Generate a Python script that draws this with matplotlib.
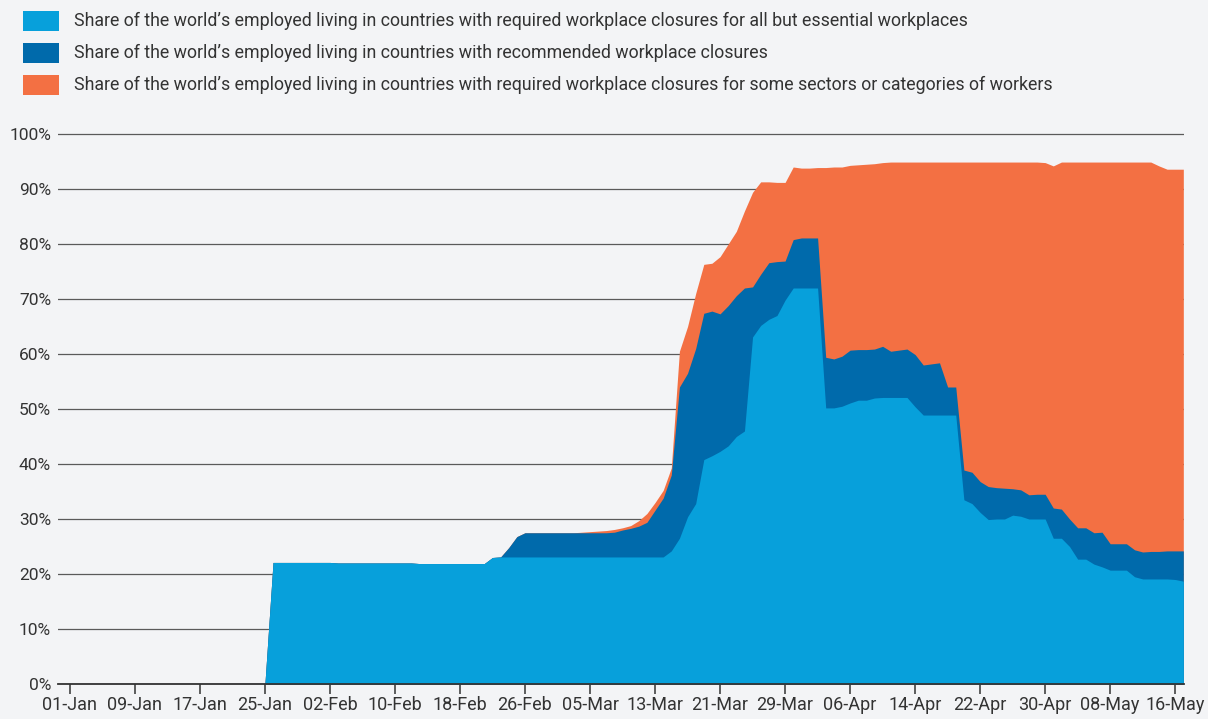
import matplotlib
matplotlib.use("Agg")
import matplotlib.pyplot as plt
from matplotlib.patches import Rectangle
import numpy as np
import pandas as pd

plt.rcParams['font.family'] = ['Roboto', 'DejaVu Sans']

# ---- data (daily, 25-Jan-2020 .. 17-May-2020), % of world's employed ----
start_date = "2020-01-25"
end_date = "2020-05-17"

essential = [
    0.0,
    22.1, 22.1, 22.1, 22.1, 22.1, 22.1, 22.1, 22.1,
    22.0, 22.0, 22.0, 22.0, 22.0, 22.0, 22.0, 22.0, 22.0, 22.0,
    21.9, 21.9, 21.9, 21.9, 21.9, 21.9, 21.9, 21.9, 21.9,
    23.0,
    23.1, 23.1, 23.1, 23.1, 23.1, 23.1, 23.1, 23.1, 23.1, 23.1, 23.1,
    23.1, 23.1, 23.1, 23.1, 23.1, 23.1, 23.1, 23.1, 23.1, 23.1,
    24.2, 26.5, 30.4, 32.8, 40.8, 41.5, 42.3, 43.3, 45.0, 46.0,
    63.1, 65.2, 66.3, 67.0, 69.8, 72.0, 72.0, 72.0, 72.0, 50.2,
    50.2, 50.5, 51.1, 51.6, 51.6, 52.0, 52.1, 52.1, 52.1, 52.1,
    50.4, 48.9, 48.9, 48.9, 48.9, 48.9, 33.5, 32.8, 31.2, 29.9,
    30.0, 30.0, 30.7, 30.5, 30.0, 30.0, 30.0, 26.5, 26.5, 25.0,
    22.7, 22.7, 21.8, 21.3, 20.7, 20.7, 20.7, 19.5, 19.1, 19.1,
    19.1, 19.1, 19.0, 18.7,
]

recommended = [
    0.0, 0.0, 0.0, 0.0, 0.0, 0.0, 0.0, 0.0, 0.0, 0.0,
    0.0, 0.0, 0.0, 0.0, 0.0, 0.0, 0.0, 0.0, 0.0, 0.0,
    0.0, 0.0, 0.0, 0.0, 0.0, 0.0, 0.0, 0.0, 0.0, 0.0,
    1.7, 3.7,
    4.4, 4.4, 4.4, 4.4, 4.4, 4.4, 4.4, 4.4, 4.4, 4.4, 4.4,
    4.5, 4.9, 5.2, 5.6, 6.3, 8.5, 10.7,
    13.8, 27.5, 26.1, 28.2, 26.6, 26.3, 25.0, 25.5, 25.6, 26.0,
    9.1, 9.3, 10.3, 9.8, 7.1, 8.8, 9.1, 9.1, 9.1, 9.2,
    8.9, 9.1, 9.6, 9.2, 9.2, 8.9, 9.3, 8.4, 8.6, 8.8,
    9.5, 9.1, 9.3, 9.5, 5.1, 5.1, 5.4, 5.7, 5.6, 6.0,
    5.7, 5.6, 4.8, 4.8, 4.4, 4.5, 4.5, 5.5, 5.3, 5.0,
    5.7, 5.7, 5.7, 6.3, 4.8, 4.8, 4.8, 4.9, 4.9, 5.0,
    5.0, 5.1, 5.2, 5.5,
]

some_sectors = [
    0.0, 0.0, 0.0, 0.0, 0.0, 0.0, 0.0, 0.0, 0.0, 0.0,
    0.0, 0.0, 0.0, 0.0, 0.0, 0.0, 0.0, 0.0, 0.0, 0.0,
    0.0, 0.0, 0.0, 0.0, 0.0, 0.0, 0.0, 0.0, 0.0, 0.0,
    0.0, 0.0, 0.0, 0.0, 0.0, 0.0, 0.0, 0.0, 0.0,
    0.1, 0.2, 0.3, 0.4, 0.5, 0.4, 0.5, 1.0, 1.6, 1.4, 1.4,
    1.3, 6.5, 8.5, 10.0, 8.9, 8.7, 10.4, 11.2, 11.7, 14.0,
    17.2, 16.8, 14.7, 14.4, 14.3, 13.2, 12.7, 12.7, 12.8, 34.5,
    34.9, 34.4, 33.6, 33.6, 33.7, 33.7, 33.4, 34.4, 34.2, 34.0,
    35.0, 36.9, 36.7, 36.5, 40.9, 40.9, 56.0, 56.4, 58.1, 59.0,
    59.2, 59.3, 59.4, 59.6, 60.5, 60.4, 60.3, 62.2, 63.1, 64.9,
    66.5, 66.5, 67.4, 67.3, 69.4, 69.4, 69.4, 70.5, 70.9, 70.8,
    70.1, 69.4, 69.4, 69.4,
]

series_labels = [
    "Share of the world\u2019s employed living in countries with required workplace closures for all but essential workplaces",
    "Share of the world\u2019s employed living in countries with recommended workplace closures",
    "Share of the world\u2019s employed living in countries with required workplace closures for some sectors or categories of workers",
]
series_colors = ["#07A0DB", "#006AAB", "#F37043"]

tick_start = "2020-01-01"
tick_end = "2020-05-16"
y_ticks = [0, 10, 20, 30, 40, 50, 60, 70, 80, 90, 100]

# ---- figure ----
W, H = 1208, 719
bg = "#F3F4F6"
txt = "#333333"
fig = plt.figure(figsize=(W / 100, H / 100), dpi=100, facecolor=bg)

ax_left, ax_right = 58, 1184
ax_bottom = 684
ymax = 100.5
ax_top = ax_bottom - 5.5 * ymax
ax = fig.add_axes([ax_left / W, 1 - ax_bottom / H,
                   (ax_right - ax_left) / W, (ax_bottom - ax_top) / H])
ax.set_facecolor(bg)

dates = pd.date_range(start_date, end_date, freq="D")
# stacked areas: each layer filled from the baseline up to its cumulative top,
# drawn top layer first so no seams appear between layers
stack = np.cumsum(np.vstack([essential, recommended, some_sectors]), axis=0)
for i in [2, 1, 0]:
    ax.fill_between(dates, 0, stack[i], color=series_colors[i],
                    linewidth=0, zorder=2 + (2 - i))

ax.set_ylim(0, ymax)
ax.set_xlim(pd.Timestamp(tick_start) - pd.Timedelta(hours=35),
            pd.Timestamp(end_date) + pd.Timedelta(hours=2))

ax.set_yticks(y_ticks)
ax.set_yticklabels([f"{v}%" for v in y_ticks])
ax.yaxis.grid(True, color="#5a5a5a", linewidth=0.9, zorder=0)
ax.set_axisbelow(True)

xt = pd.date_range(tick_start, tick_end, freq="8D")
ax.set_xticks(xt)
ax.set_xticklabels([d.strftime("%d-%b") for d in xt])

for s in ["top", "right", "left"]:
    ax.spines[s].set_visible(False)
ax.spines["bottom"].set_color("#333333")
ax.spines["bottom"].set_linewidth(1.3)
ax.spines["bottom"].set_zorder(6)

ax.tick_params(axis="y", length=0, pad=5, labelsize=12.5, labelcolor=txt)
ax.tick_params(axis="x", length=7, width=1.1, color="#333333", pad=2,
               labelsize=13, labelcolor=txt)

# ---- legend (top) ----
row_y = [21, 53, 85]
for lab, col, yc in zip(series_labels, series_colors, row_y):
    fig.patches.append(Rectangle((23 / W, 1 - (yc + 9.5) / H), 36 / W, 19 / H,
                                 transform=fig.transFigure, facecolor=col,
                                 edgecolor="none"))
    fig.text(74 / W, 1 - yc / H, lab, fontsize=12.8, color=txt,
             va="center", ha="left")

fig.savefig("out.png", dpi=100, facecolor=bg)
